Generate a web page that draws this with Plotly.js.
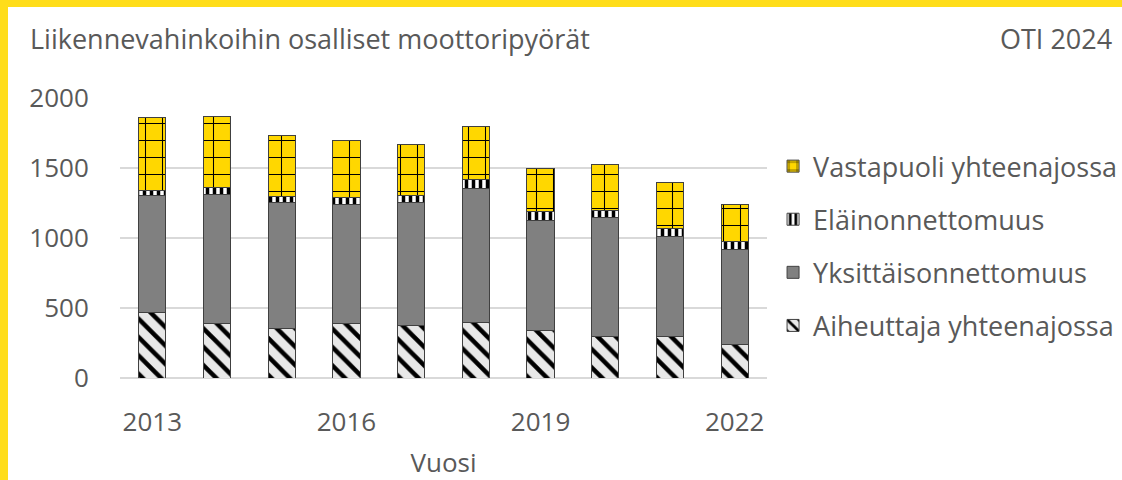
<!DOCTYPE html>
<html>
<head>
<meta charset="utf-8">
<script src="https://cdn.plot.ly/plotly-3.0.1.min.js"></script>
<style>
  html, body { margin: 0; padding: 0; background: #ffffff; }
  #wrap { position: relative; width: 1122px; height: 480px; overflow: hidden; }
  #chart { position: absolute; left: 0; top: 0; width: 1122px; height: 480px; }
  .bt { position: absolute; left: 0; top: 0; width: 1122px; height: 7px; background: #FFDD1A; }
  .bl { position: absolute; left: 0; top: 0; width: 8px; height: 480px; background: #FFDD1A; }
</style>
</head>
<body>
<div id="wrap">
  <div id="chart"></div>
  <div class="bt"></div>
  <div class="bl"></div>
</div>
<script>
const years = [2013, 2014, 2015, 2016, 2017, 2018, 2019, 2020, 2021, 2022];
const aiheuttaja = [467, 390, 355, 390, 376, 399, 336, 296, 296, 237];
const yksittais  = [839, 923, 902, 850, 878, 956, 787, 847, 716, 679];
const elain      = [30, 51, 39, 49, 47, 63, 63, 52, 59, 59];
const vastapuoli = [523, 507, 434, 411, 364, 376, 307, 333, 328, 267];
const xTicks = [2013, 2016, 2019, 2022];
const yTicks = [0, 500, 1000, 1500, 2000];

const seriesNames = ['Aiheuttaja yhteenajossa', 'Yksittäisonnettomuus', 'Eläinonnettomuus', 'Vastapuoli yhteenajossa'];

const outline = { color: '#404040', width: 1 };
const textColor = '#595959';
const font = 'Open Sans, Noto Sans, sans-serif';

const traces = [
  {
    type: 'bar', x: years, y: aiheuttaja, name: seriesNames[0], legendgroup: 'a', legendrank: 4,
    marker: { color: '#e8e8e8', line: outline,
      pattern: { shape: '\\', fgcolor: '#000000', bgcolor: '#e8e8e8', size: 13, solidity: 0.35, fillmode: 'replace' } }
  },
  {
    type: 'bar', x: years, y: yksittais, name: seriesNames[1], legendgroup: 'b', legendrank: 3,
    marker: { color: '#808080', line: outline }
  },
  {
    type: 'bar', x: years, y: elain, name: seriesNames[2], legendgroup: 'c', legendrank: 2,
    marker: { color: '#ffffff', line: outline,
      pattern: { shape: '|', fgcolor: '#000000', bgcolor: '#ffffff', size: 7, solidity: 0.5, fillmode: 'replace' } }
  },
  {
    type: 'bar', x: years, y: vastapuoli, name: seriesNames[3], legendgroup: 'd', legendrank: 1,
    marker: { color: '#FFD700', line: outline,
      pattern: { shape: '+', fgcolor: '#000000', bgcolor: '#FFD700', size: 17, solidity: 0.12, fillmode: 'replace' } }
  }
];

const layout = {
  width: 1122, height: 480,
  paper_bgcolor: '#ffffff', plot_bgcolor: '#ffffff',
  margin: { l: 120, r: 355, t: 98, b: 101.5, pad: 0, autoexpand: false },
  barmode: 'stack',
  bargap: 0.58,
  showlegend: true,
  font: { family: font, color: textColor, size: 26 },
  xaxis: {
    type: 'linear', range: [2012.5, 2022.5],
    tickmode: 'array', tickvals: xTicks, ticktext: xTicks.map(String),
    showgrid: false, zeroline: false, showline: false,
    ticks: 'outside', ticklen: 21, tickcolor: 'rgba(0,0,0,0)',
    tickfont: { family: font, size: 26, color: textColor },
    title: { text: 'Vuosi', font: { family: font, size: 26, color: textColor }, standoff: 15 }
  },
  yaxis: {
    range: [0, 2000],
    tickmode: 'array', tickvals: yTicks, ticktext: yTicks.map(String),
    showgrid: true, gridcolor: '#d9d9d9', gridwidth: 1.5,
    zeroline: true, zerolinecolor: '#d9d9d9', zerolinewidth: 1.5,
    showline: false, ticks: 'outside', ticklen: 25, tickcolor: 'rgba(0,0,0,0)',
    tickfont: { family: font, size: 26, color: textColor }
  },
  legend: {
    xref: 'container', yref: 'container',
    x: 0.689, xanchor: 'left', y: 0.704, yanchor: 'top',
    traceorder: 'grouped', tracegroupgap: 15,
    font: { family: font, size: 27, color: textColor },
    itemwidth: 30, bgcolor: 'rgba(0,0,0,0)'
  },
  annotations: [
    { text: 'Liikennevahinkoihin osalliset moottoripyörät', xref: 'paper', yref: 'paper',
      x: -0.142, y: 1.212, xanchor: 'left', yanchor: 'middle', showarrow: false,
      font: { family: font, size: 27, color: textColor } },
    { text: 'OTI 2024', xref: 'paper', yref: 'paper',
      x: 1.5363, y: 1.212, xanchor: 'right', yanchor: 'middle', showarrow: false,
      font: { family: font, size: 27, color: textColor } }
  ]
};

Plotly.newPlot('chart', traces, layout, { staticPlot: true, displayModeBar: false });
</script>
</body>
</html>
